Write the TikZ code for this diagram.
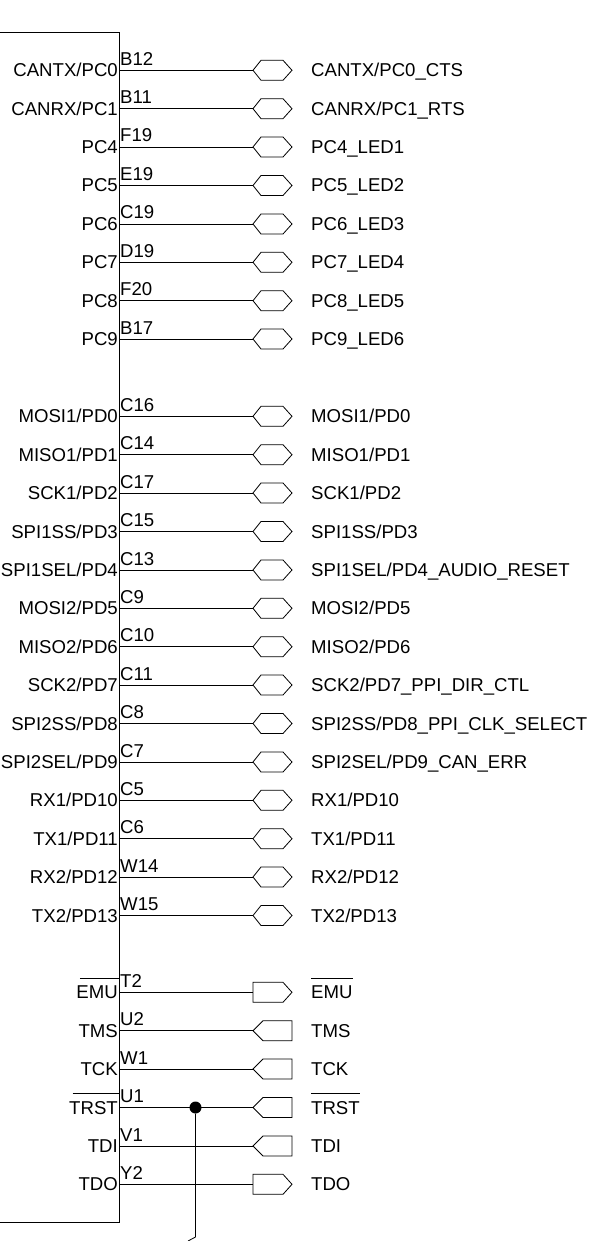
\documentclass[tikz,border=0pt]{standalone}
\usepackage{fontspec}
\setmainfont{Liberation Sans}
\tikzset{
	wire/.style={line width=0.8pt},
	pinname/.style={anchor=base east,inner sep=0pt,font=\fontsize{18.6}{20}\selectfont},
	pinno/.style={anchor=base west,inner sep=0pt,font=\fontsize{18.6}{20}\selectfont},
	netname/.style={anchor=base west,inner sep=0pt,font=\fontsize{18.6}{20}\selectfont},
}
\begin{document}
\begin{tikzpicture}[x=1pt,y=-1pt]
\useasboundingbox (0,0) rectangle (593,1241);

\draw[wire] (0,32) -- (119,32) -- (119,1222) -- (0,1222);

\foreach \y/\no/\pname/\nname in {
	70.3/B12/{CANTX/PC0}/{CANTX/PC0\_CTS},
	108.7/B11/{CANRX/PC1}/{CANRX/PC1\_RTS},
	147/F19/{PC4}/{PC4\_LED1},
	185.5/E19/{PC5}/{PC5\_LED2},
	224/C19/{PC6}/{PC6\_LED3},
	262.3/D19/{PC7}/{PC7\_LED4},
	300.7/F20/{PC8}/{PC8\_LED5},
	339/B17/{PC9}/{PC9\_LED6},
	416.3/C16/{MOSI1/PD0}/{MOSI1/PD0},
	454.7/C14/{MISO1/PD1}/{MISO1/PD1},
	493/C17/{SCK1/PD2}/{SCK1/PD2},
	531.5/C15/{SPI1SS/PD3}/{SPI1SS/PD3},
	570/C13/{SPI1SEL/PD4}/{SPI1SEL/PD4\_AUDIO\_RESET},
	608.3/C9/{MOSI2/PD5}/{MOSI2/PD5},
	646.7/C10/{MISO2/PD6}/{MISO2/PD6},
	685/C11/{SCK2/PD7}/{SCK2/PD7\_PPI\_DIR\_CTL},
	723.5/C8/{SPI2SS/PD8}/{SPI2SS/PD8\_PPI\_CLK\_SELECT},
	762/C7/{SPI2SEL/PD9}/{SPI2SEL/PD9\_CAN\_ERR},
	800.3/C5/{RX1/PD10}/{RX1/PD10},
	838.7/C6/{TX1/PD11}/{TX1/PD11},
	877/W14/{RX2/PD12}/{RX2/PD12},
	915.5/W15/{TX2/PD13}/{TX2/PD13}}
{
	\coordinate (pin\no) at (119,\y);
	\coordinate (port\no) at (253,\y);
	\draw[wire] (pin\no) -- (port\no);
	\draw[wire] (port\no) -- ++(8,-10) -- ++(22,0) -- ++(9,10) -- ++(-9,10) -- ++(-22,0) -- cycle;
	\node[pinname] (name\no) at (118,\y+6.5) {\pname};
	\node[pinno] (no\no) at (120,\y-5) {\no};
	\node[netname] (net\no) at (311,\y+6.5) {\nname};
}

\foreach \y/\no/\pname in {992.3/T2/EMU,1184.3/Y2/TDO}
{
	\coordinate (pin\no) at (119,\y);
	\coordinate (port\no) at (253,\y);
	\draw[wire] (pin\no) -- (port\no);
	\draw[wire] (port\no) -- ++(0,-10) -- ++(30,0) -- ++(9,10) -- ++(-9,10) -- ++(-30,0) -- cycle;
	\node[pinname] (name\no) at (118,\y+6.5) {\pname};
	\node[pinno] (no\no) at (120,\y-5) {\no};
	\node[netname] (net\no) at (311,\y+6.5) {\pname};
}

\foreach \y/\no/\pname in {1030.7/U2/TMS,1069/W1/TCK,1107.5/U1/TRST,1146/V1/TDI}
{
	\coordinate (pin\no) at (119,\y);
	\coordinate (port\no) at (253,\y);
	\draw[wire] (pin\no) -- (port\no);
	\draw[wire] (port\no) -- ++(10,-10) -- ++(29,0) -- ++(0,20) -- ++(-29,0) -- cycle;
	\node[pinname] (name\no) at (118,\y+6.5) {\pname};
	\node[pinno] (no\no) at (120,\y-5) {\no};
	\node[netname] (net\no) at (311,\y+6.5) {\pname};
}

\foreach \no in {T2,U1}
{
	\draw[wire] ([xshift=3.5pt,yshift=7pt]name\no.north west) -- ([yshift=7pt]name\no.north west -| pin\no);
	\draw[wire] ([yshift=7pt]net\no.north west) -- ([yshift=7pt]net\no.north east);
}

\node[circle,fill,inner sep=0pt,minimum size=12pt] (dot) at (195.5,1107.5) {};
\coordinate (tail) at (195.5,1237);
\coordinate (tailend) at (188,1241);
\draw[wire] (dot) -- (tail) -- (tailend);
\end{tikzpicture}
\end{document}
